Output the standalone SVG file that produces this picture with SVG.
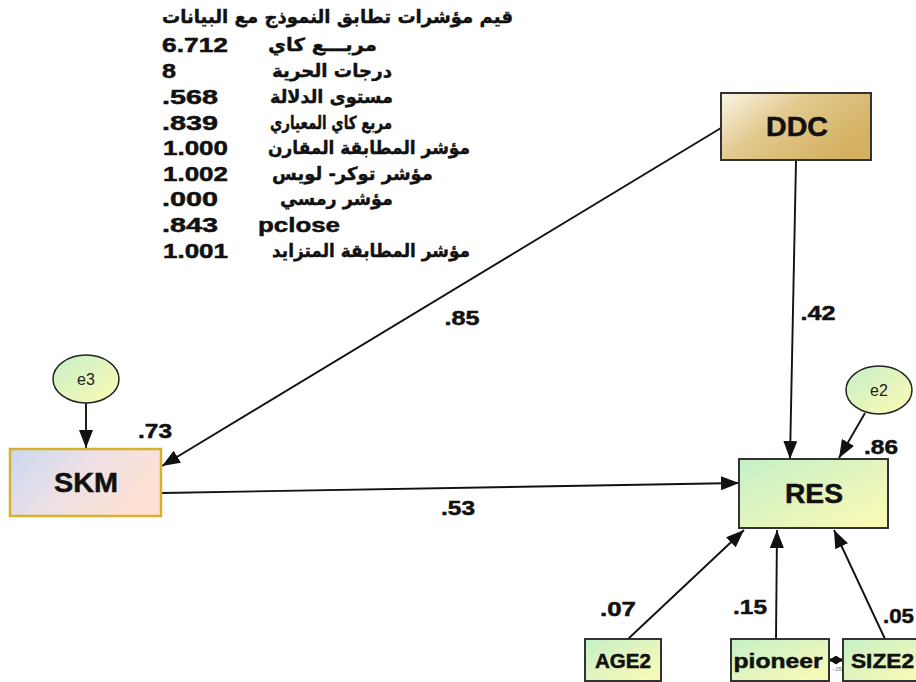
<svg xmlns="http://www.w3.org/2000/svg" width="916" height="682" viewBox="0 0 916 682">
<style>
.t{font-family:"Liberation Sans",Arial,"DejaVu Sans",sans-serif;font-weight:bold;fill:#111;stroke:#111;stroke-width:0.5;}
.ar{font-family:"DejaVu Sans","Liberation Sans",sans-serif;font-weight:bold;font-size:18px;fill:#111;stroke:#111;stroke-width:0.4;}
.v{font-size:21px;}
.nl{font-size:27px;text-anchor:middle;}
.bl{font-size:21px;text-anchor:middle;}
.el{font-family:"Liberation Sans",Arial,sans-serif;font-size:16px;fill:#222;text-anchor:middle;}
.c{stroke:#111;stroke-width:1.9;fill:none;}
.box{stroke:#333;stroke-width:2;}
</style>
<defs>
<linearGradient id="gDDC" x1="0" y1="0" x2="1" y2="0.6">
<stop offset="0" stop-color="#fbf6e6"/><stop offset="0.45" stop-color="#e2c98e"/><stop offset="1" stop-color="#d4b060"/>
</linearGradient>
<linearGradient id="gSKM" x1="0" y1="0" x2="1" y2="0.4">
<stop offset="0" stop-color="#cbd8f2"/><stop offset="0.55" stop-color="#efe0e4"/><stop offset="1" stop-color="#fde2d4"/>
</linearGradient>
<linearGradient id="gGY" x1="0" y1="0" x2="1" y2="1">
<stop offset="0" stop-color="#c4f0c8"/><stop offset="0.6" stop-color="#e8f6bc"/><stop offset="1" stop-color="#fdfbb4"/>
</linearGradient>
<marker id="ah" viewBox="0 0 18 14" refX="18" refY="7" markerWidth="18" markerHeight="14" markerUnits="userSpaceOnUse" orient="auto">
<path d="M0,0 L18,7 L0,14 Z" fill="#111"/>
</marker>
<marker id="ahs" viewBox="0 0 8 10" refX="8" refY="5" markerWidth="7" markerHeight="9" markerUnits="userSpaceOnUse" orient="auto-start-reverse">
<path d="M0,0 L8,5 L0,10 Z" fill="#111"/>
</marker>
</defs>
<rect width="916" height="682" fill="#fff"/>

<g id="fit-table">
<text class="ar" x="513" y="23" text-anchor="end" textLength="351" lengthAdjust="spacingAndGlyphs">قيم مؤشرات تطابق النموذج مع البيانات</text>
<text class="t v" x="162" y="52" textLength="66" lengthAdjust="spacingAndGlyphs">6.712</text>
<text class="ar" x="268" y="51" textLength="109" lengthAdjust="spacingAndGlyphs">مربـــع كاي</text>
<text class="t v" x="162" y="78" textLength="14" lengthAdjust="spacingAndGlyphs">8</text>
<text class="ar" x="272" y="77" textLength="120" lengthAdjust="spacingAndGlyphs">درجات الحرية</text>
<text class="t v" x="162" y="104" textLength="56" lengthAdjust="spacingAndGlyphs">.568</text>
<text class="ar" x="270" y="103" textLength="123" lengthAdjust="spacingAndGlyphs">مستوى الدلالة</text>
<text class="t v" x="162" y="130" textLength="56" lengthAdjust="spacingAndGlyphs">.839</text>
<text class="ar" x="270" y="129" textLength="122" lengthAdjust="spacingAndGlyphs">مربع كاي المعياري</text>
<text class="t v" x="163" y="155" textLength="65" lengthAdjust="spacingAndGlyphs">1.000</text>
<text class="ar" x="268" y="154" textLength="202" lengthAdjust="spacingAndGlyphs">مؤشر المطابقة المقارن</text>
<text class="t v" x="163" y="181" textLength="65" lengthAdjust="spacingAndGlyphs">1.002</text>
<text class="ar" x="272" y="180" textLength="161" lengthAdjust="spacingAndGlyphs">مؤشر توكر- لويس</text>
<text class="t v" x="162" y="206" textLength="56" lengthAdjust="spacingAndGlyphs">.000</text>
<text class="ar" x="280" y="205" textLength="113" lengthAdjust="spacingAndGlyphs">مؤشر رمسي</text>
<text class="t v" x="162" y="232" textLength="56" lengthAdjust="spacingAndGlyphs">.843</text>
<text class="t v" x="258" y="232" textLength="82" lengthAdjust="spacingAndGlyphs">pclose</text>
<text class="t v" x="163" y="258" textLength="65" lengthAdjust="spacingAndGlyphs">1.001</text>
<text class="ar" x="272" y="257" textLength="198" lengthAdjust="spacingAndGlyphs">مؤشر المطابقة المتزايد</text>
</g>

<g id="connectors">
<line class="c" x1="721" y1="128" x2="162" y2="466" marker-end="url(#ah)"/>
<line class="c" x1="796" y1="161" x2="790" y2="459" marker-end="url(#ah)"/>
<line class="c" x1="162" y1="493" x2="739" y2="483" marker-end="url(#ah)"/>
<line class="c" x1="86" y1="403" x2="86" y2="448" marker-end="url(#ah)"/>
<line class="c" x1="865" y1="413" x2="839" y2="458" marker-end="url(#ah)"/>
<line class="c" x1="628" y1="639" x2="744" y2="530" marker-end="url(#ah)"/>
<line class="c" x1="776" y1="639" x2="777" y2="530" marker-end="url(#ah)"/>
<line class="c" x1="885" y1="639" x2="834" y2="530" marker-end="url(#ah)"/>
<line x1="829" y1="660" x2="843" y2="660" stroke="#111" stroke-width="3" marker-start="url(#ahs)" marker-end="url(#ahs)"/>
<text x="837" y="671" font-family="Liberation Sans,Arial,sans-serif" font-size="6" fill="#777" text-anchor="middle">-.05</text>
</g>

<g id="labels">
<text class="t bl" x="462" y="325" textLength="35" lengthAdjust="spacingAndGlyphs">.85</text>
<text class="t bl" x="818" y="320" textLength="35" lengthAdjust="spacingAndGlyphs">.42</text>
<text class="t bl" x="155" y="438" textLength="34" lengthAdjust="spacingAndGlyphs">.73</text>
<text class="t bl" x="881" y="454" textLength="34" lengthAdjust="spacingAndGlyphs">.86</text>
<text class="t bl" x="458" y="515" textLength="34" lengthAdjust="spacingAndGlyphs">.53</text>
<text class="t bl" x="618" y="616" textLength="36" lengthAdjust="spacingAndGlyphs">.07</text>
<text class="t bl" x="750" y="614" textLength="34" lengthAdjust="spacingAndGlyphs">.15</text>
<text class="t" x="914" y="623" font-size="21" text-anchor="end" textLength="31" lengthAdjust="spacingAndGlyphs">.05</text>
</g>

<g id="DDC">
<rect class="box" x="721" y="93" width="150" height="67" fill="url(#gDDC)"/>
<text class="t nl" x="797" y="136" textLength="62" lengthAdjust="spacingAndGlyphs">DDC</text>
</g>
<g id="SKM">
<rect x="10" y="449" width="151" height="67" fill="url(#gSKM)" stroke="#d6b22c" stroke-width="2.5"/>
<text class="t nl" x="86" y="492" textLength="64" lengthAdjust="spacingAndGlyphs">SKM</text>
</g>
<g id="RES">
<rect class="box" x="739" y="459" width="149" height="69" fill="url(#gGY)"/>
<text class="t nl" x="814" y="503" textLength="58" lengthAdjust="spacingAndGlyphs">RES</text>
</g>
<g id="e3">
<ellipse cx="86" cy="379" rx="33" ry="24" fill="url(#gGY)" stroke="#222" stroke-width="1.5"/>
<text class="el" x="86" y="385">e3</text>
</g>
<g id="e2">
<ellipse cx="879" cy="390" rx="33" ry="24" fill="url(#gGY)" stroke="#222" stroke-width="1.5"/>
<text class="el" x="879" y="396">e2</text>
</g>
<g id="AGE2">
<rect class="box" x="585" y="639" width="76" height="42" fill="url(#gGY)"/>
<text class="t bl" x="623" y="668" textLength="56" lengthAdjust="spacingAndGlyphs">AGE2</text>
</g>
<g id="pioneer">
<rect class="box" x="731" y="639" width="98" height="42" fill="url(#gGY)"/>
<text class="t bl" x="778" y="668" textLength="89" lengthAdjust="spacingAndGlyphs">pioneer</text>
</g>
<g id="SIZE2">
<rect class="box" x="843" y="639" width="80" height="42" fill="url(#gGY)"/>
<text class="t" x="851" y="668" font-size="21" textLength="63" lengthAdjust="spacingAndGlyphs">SIZE2</text>
</g>
</svg>
